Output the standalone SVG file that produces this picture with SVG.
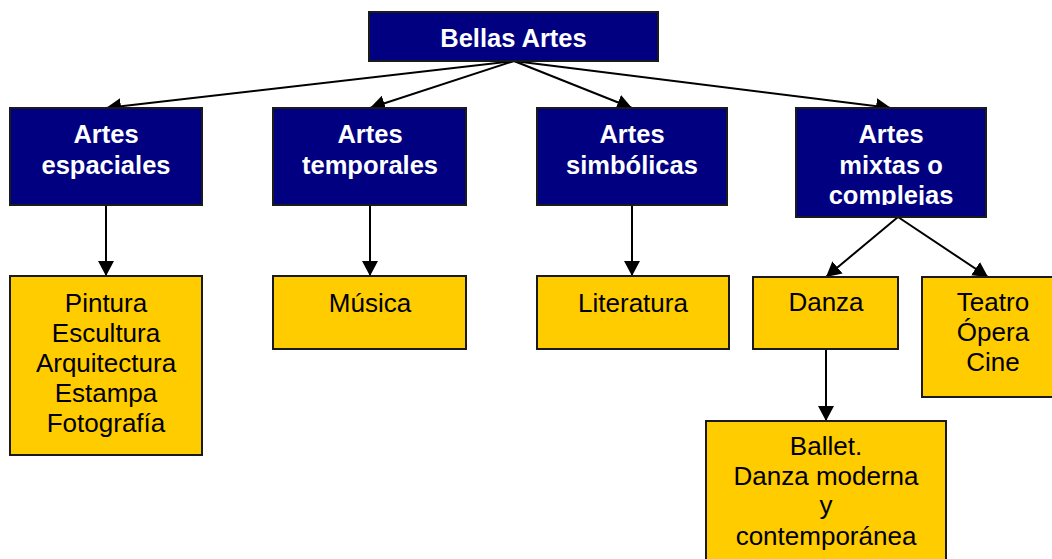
<svg xmlns="http://www.w3.org/2000/svg" width="1052" height="559" viewBox="0 0 1052 559">
<style>
.n{fill:#000080;stroke:#1a1a1a;stroke-width:2}
.y{fill:#FFCC00;stroke:#1a1a1a;stroke-width:2}
.tb{font-family:"Liberation Sans",Arial,sans-serif;font-weight:bold;font-size:25.5px;fill:#ffffff;text-anchor:middle}
.tr{font-family:"Liberation Sans",Arial,sans-serif;font-size:26px;fill:#000000;text-anchor:middle}
.c line{stroke:#000;stroke-width:2;marker-end:url(#ah)}
</style>
<defs>
<marker id="ah" markerUnits="userSpaceOnUse" markerWidth="15" markerHeight="16" viewBox="0 0 15 16" refX="15" refY="8" orient="auto">
<path d="M0,0 L15,8 L0,16 Z" fill="#000"/>
</marker>
<clipPath id="cm"><rect x="796" y="108" width="190" height="97"/></clipPath>
</defs>
<rect width="1052" height="559" fill="#ffffff"/>
<g class="c">
<line x1="514" y1="61" x2="106" y2="108"/>
<line x1="514" y1="61" x2="370" y2="108"/>
<line x1="514" y1="61" x2="632" y2="108"/>
<line x1="514" y1="61" x2="891" y2="108"/>
<line x1="106" y1="205" x2="106" y2="276"/>
<line x1="370" y1="205" x2="370" y2="276"/>
<line x1="632" y1="205" x2="632" y2="276"/>
<line x1="898" y1="217" x2="826" y2="277"/>
<line x1="898" y1="217" x2="988" y2="277"/>
<line x1="826" y1="349" x2="826" y2="421"/>
</g>
<g id="bellas-artes">
<rect class="n" x="369" y="12" width="289" height="49"/>
<text class="tb" x="513.5" y="47">Bellas Artes</text>
</g>
<g id="espaciales">
<rect class="n" x="10" y="108" width="192" height="97"/>
<text class="tb" x="106" y="143">Artes</text>
<text class="tb" x="106" y="174">espaciales</text>
</g>
<g id="temporales">
<rect class="n" x="273" y="108" width="193" height="97"/>
<text class="tb" x="370" y="143">Artes</text>
<text class="tb" x="370" y="174">temporales</text>
</g>
<g id="simbolicas">
<rect class="n" x="537" y="108" width="190" height="97"/>
<text class="tb" x="632" y="143">Artes</text>
<text class="tb" x="632" y="174">simbólicas</text>
</g>
<g id="mixtas">
<rect class="n" x="796" y="108" width="190" height="109"/>
<g clip-path="url(#cm)">
<text class="tb" x="891" y="143">Artes</text>
<text class="tb" x="891" y="174">mixtas o</text>
<text class="tb" x="891" y="204">complejas</text>
</g>
</g>
<g id="pintura">
<rect class="y" x="10" y="276" width="192" height="179"/>
<text class="tr" x="106" y="312">Pintura</text>
<text class="tr" x="106" y="342">Escultura</text>
<text class="tr" x="106" y="372">Arquitectura</text>
<text class="tr" x="106" y="402">Estampa</text>
<text class="tr" x="106" y="432">Fotografía</text>
</g>
<g id="musica">
<rect class="y" x="273" y="276" width="193" height="73"/>
<text class="tr" x="370" y="312">Música</text>
</g>
<g id="literatura">
<rect class="y" x="537" y="276" width="192" height="73"/>
<text class="tr" x="633" y="312">Literatura</text>
</g>
<g id="danza">
<rect class="y" x="753" y="277" width="145" height="72"/>
<text class="tr" x="826" y="311">Danza</text>
</g>
<g id="teatro">
<rect class="y" x="922" y="277" width="131" height="120"/>
<text class="tr" x="993" y="311">Teatro</text>
<text class="tr" x="993" y="341">Ópera</text>
<text class="tr" x="993" y="371">Cine</text>
</g>
<g id="ballet">
<rect class="y" x="706" y="421" width="240" height="140"/>
<text class="tr" x="826" y="455">Ballet.</text>
<text class="tr" x="826" y="485">Danza moderna</text>
<text class="tr" x="826" y="514">y</text>
<text class="tr" x="826" y="545">contemporánea</text>
</g>
</svg>
